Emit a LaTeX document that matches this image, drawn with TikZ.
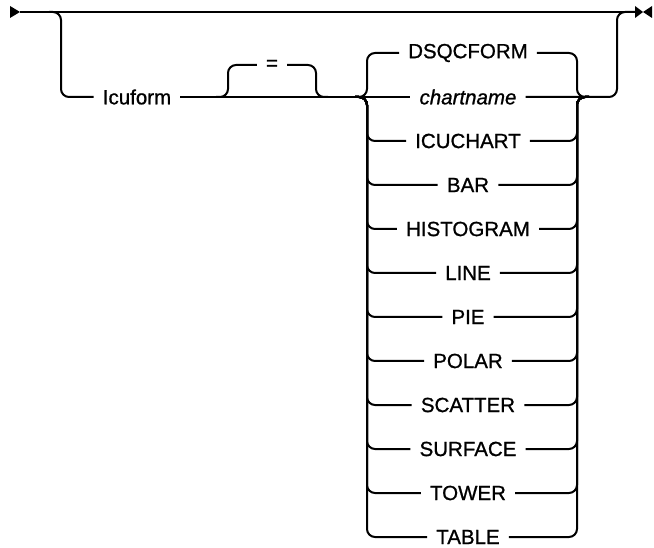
\documentclass[tikz,border=0pt]{standalone}
\usepackage{fontspec}
\setmainfont[FakeBold=0.9]{Liberation Sans}
\usetikzlibrary{positioning}

\tikzset{
  rail/.style={line width=2pt, rounded corners=8pt},
  kw/.style={font=\fontsize{20.5}{24}\selectfont, inner ysep=0pt, inner xsep=9pt},
}

\begin{document}
\begin{tikzpicture}[x=1pt, y=-1pt, node distance=44pt]
\useasboundingbox (0,0) rectangle (654,548);

% joints on the rails
\coordinate (start) at (20,12);
\coordinate (stop) at (635,12);
\coordinate (drop) at (49,12);
\coordinate (eqin) at (216,97);
\coordinate (eqout) at (316,97);
\coordinate (split) at (355,97);
\coordinate (railL) at (367,97);
\coordinate (railR) at (577,97);
\coordinate (merge) at (589,97);
\coordinate (rise) at (617,12);

% keywords
\node (icuform) [kw] at (137,97) {Icuform};
\node (eq) [kw] at (272,65) {=};
\node (dsqcform) [kw] at (468,53) {DSQCFORM};
\node (chartname) [kw, below of=dsqcform] {\itshape chartname};
\node (icuchart) [kw, below of=chartname] {ICUCHART};
\node (bar) [kw, below of=icuchart] {BAR};
\node (histogram) [kw, below of=bar] {HISTOGRAM};
\node (line) [kw, below of=histogram] {LINE};
\node (pie) [kw, below of=line] {PIE};
\node (polar) [kw, below of=pie] {POLAR};
\node (scatter) [kw, below of=polar] {SCATTER};
\node (surface) [kw, below of=scatter] {SURFACE};
\node (tower) [kw, below of=surface] {TOWER};
\node (table) [kw, below of=tower] {TABLE};

% main line and its ends
\draw[rail] (start) -- (stop);
\fill (start) -- ++(-10,-6) -- ++(0,12) -- cycle;
\fill (stop) ++(0,-6) -- ++(8,6) -- ++(-8,6) -- cycle;
\fill (stop) ++(17,-6) -- ++(-9,6) -- ++(9,6) -- cycle;

% optional Icuform branch
\draw[rail] (drop) -- ++(12,0) |- (icuform);
\draw[rail] (icuform) -- (chartname);
\draw[rail] (eqin) -- ++(12,0) |- (eq);
\draw[rail] (eq) -| (eqout) -- ++(12,0);
\draw[rail] (chartname) -| (rise) -- (stop);

% choices
\draw[rail] (split) -| (railL |- dsqcform) -- (dsqcform);
\draw[rail] (dsqcform) -| (railR) -- (merge);
\draw[rail] (split) -| (railL |- icuchart) -- (icuchart);
\draw[rail] (icuchart) -| (railR) -- (merge);
\draw[rail] (split) -| (railL |- bar) -- (bar);
\draw[rail] (bar) -| (railR) -- (merge);
\draw[rail] (split) -| (railL |- histogram) -- (histogram);
\draw[rail] (histogram) -| (railR) -- (merge);
\draw[rail] (split) -| (railL |- line) -- (line);
\draw[rail] (line) -| (railR) -- (merge);
\draw[rail] (split) -| (railL |- pie) -- (pie);
\draw[rail] (pie) -| (railR) -- (merge);
\draw[rail] (split) -| (railL |- polar) -- (polar);
\draw[rail] (polar) -| (railR) -- (merge);
\draw[rail] (split) -| (railL |- scatter) -- (scatter);
\draw[rail] (scatter) -| (railR) -- (merge);
\draw[rail] (split) -| (railL |- surface) -- (surface);
\draw[rail] (surface) -| (railR) -- (merge);
\draw[rail] (split) -| (railL |- tower) -- (tower);
\draw[rail] (tower) -| (railR) -- (merge);
\draw[rail] (split) -| (railL |- table) -- (table);
\draw[rail] (table) -| (railR) -- (merge);
\end{tikzpicture}
\end{document}
